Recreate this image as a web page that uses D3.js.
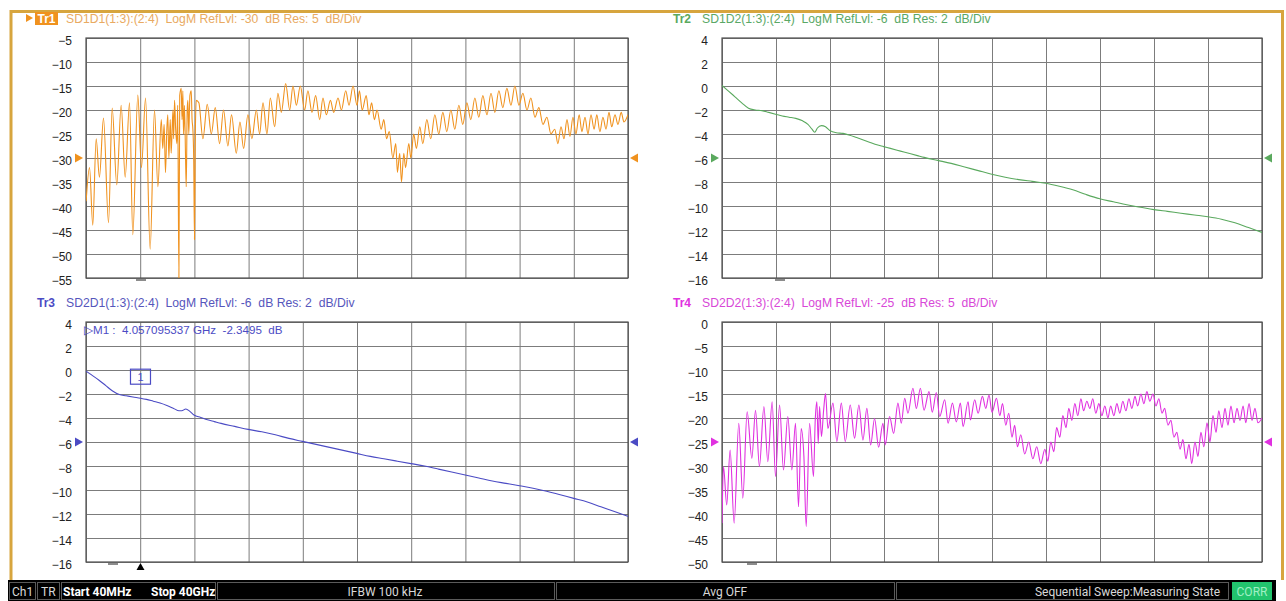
<!DOCTYPE html>
<html><head><meta charset="utf-8">
<script src="https://cdn.jsdelivr.net/npm/d3@7"></script>
<style>
body{margin:0;background:#fff;}
svg{display:block;font-family:"Liberation Sans",Arial,sans-serif;}
text{white-space:pre;}
</style>
</head><body>
<svg id="c" width="1286" height="601"></svg>
<script>
// ---------- DATA ----------
const startGHz = 0.04, stopGHz = 40;
const tr1Ticks = [-5,-10,-15,-20,-25,-30,-35,-40,-45,-50,-55];
const tr2Ticks = [4,2,0,-2,-4,-6,-8,-10,-12,-14,-16];
const tr3Ticks = [4,2,0,-2,-4,-6,-8,-10,-12,-14,-16];
const tr4Ticks = [0,-5,-10,-15,-20,-25,-30,-35,-40,-45,-50];
const refLevels = [-30, -6, -6, -25];
const titles = [
  "SD1D1(1:3):(2:4)  LogM RefLvl: -30  dB Res: 5  dB/Div",
  "SD1D2(1:3):(2:4)  LogM RefLvl: -6  dB Res: 2  dB/Div",
  "SD2D1(1:3):(2:4)  LogM RefLvl: -6  dB Res: 2  dB/Div",
  "SD2D2(1:3):(2:4)  LogM RefLvl: -25  dB Res: 5  dB/Div"
];
const traceNames = ["Tr1","Tr2","Tr3","Tr4"];
const markerFreq = 4.057095337, markerVal = -2.3495;
const markerText = "\u25B7M1 :  4.057095337 GHz  -2.3495  dB";
const statusTexts = ["Ch1","TR","Start 40MHz","Stop 40GHz","IFBW 100 kHz","Avg OFF","Sequential Sweep:Measuring State","CORR"];

// [GHz, dB]
const tr1 = [
[0.05,-39],[0.3,-32],[0.54,-44],[0.79,-26],[1.03,-34],[1.33,-21.7],[1.7,-43.5],[1.97,-19.6],[2.31,-35.6],[2.63,-19],[2.93,-34],[3.25,-18.5],[3.49,-46],[3.86,-16.9],[4.13,-32],[4.43,-17.5],[4.77,-49],[5.09,-20],[5.34,-36],
[5.59,-22],[5.7,-28],[5.8,-23],[5.9,-33],[6.0,-24],[6.07,-21],[6.15,-30],[6.25,-22],[6.32,-29],[6.45,-20],[6.5,-26],[6.57,-18],[6.65,-24],[6.74,-27],[6.8,-19],[6.89,-55],[6.95,-17],[7.06,-15.5],[7.12,-22],[7.18,-16],[7.23,-25],[7.3,-19],[7.38,-30],[7.43,-36],[7.5,-20],[7.55,-18],[7.62,-25],[7.7,-17],[7.8,-16],[7.86,-22],[7.92,-24],[7.98,-30],[8.04,-47],[8.1,-25],[8.17,-18],
[8.36,-18.5],[8.66,-26],[8.98,-18.8],[9.28,-25],[9.57,-19.5],[9.89,-27],[10.18,-20],[10.5,-27.5],[10.77,-21],[11.12,-29],[11.39,-22.5],[11.66,-28],[11.98,-21],[12.27,-26],[12.6,-20],[12.84,-25],[13.09,-18.5],[13.38,-25],[13.63,-17.5],[13.95,-23.5],[14.19,-16.5],[14.44,-20.5],[14.76,-14.5],[15.06,-20],[15.3,-15],[15.55,-19],[15.84,-15],[16.16,-20],[16.4,-16],[16.7,-20.5],[16.97,-17],[17.27,-22],[17.51,-17.5],[17.76,-21],[18.06,-18],[18.3,-20.5],[18.62,-17.5],[18.87,-20],[19.19,-16],[19.43,-19],[19.73,-15],[20.02,-19],
[20.2,-16],[20.4,-20],[20.7,-17],[20.9,-21],[21.1,-18.5],[21.3,-22],[21.5,-20],[21.8,-24],[22.0,-22],[22.2,-26],[22.4,-24.5],[22.66,-30],[22.88,-27],[23.0,-33],[23.17,-29],[23.3,-35],[23.47,-29],[23.6,-32],[23.84,-27],[23.99,-30],[24.2,-25],[24.4,-28],[24.65,-23.5],[24.87,-27],[25.17,-22],[25.46,-26],[25.76,-21],[26.05,-25],[26.35,-20.5],[26.64,-24.5],[26.94,-20],[27.23,-24],[27.53,-19],[27.82,-23],[28.12,-18.5],[28.41,-22],[28.71,-17.5],[29.0,-21.5],[29.3,-17],[29.6,-21],[29.9,-16.5],[30.18,-20.5],[30.48,-16],[30.77,-19.5],[31.07,-15.5],[31.37,-19],[31.66,-15],[31.96,-19],[32.25,-16.5],[32.55,-20],[32.84,-17.5],[33.14,-21.5],[33.43,-19.5],[33.73,-23],[34.02,-21.5],[34.32,-25],[34.6,-24],[34.83,-27],[35.06,-23.5],[35.28,-26],[35.5,-22],[35.72,-25.5],[35.94,-21.5],[36.16,-25],[36.4,-21],[36.6,-24.5],[36.83,-21.5],[37.05,-25],[37.27,-21],[37.5,-24],[37.7,-21],[37.93,-24.5],[38.15,-21.5],[38.38,-24],[38.6,-20.5],[38.8,-23.5],[39.04,-21],[39.26,-23],[39.5,-20.5],[39.7,-22.5],[40.0,-21]
];

const tr2 = [
[0.04,0.05],[0.5,-0.4],[1.0,-0.9],[1.5,-1.4],[2.0,-1.85],[2.5,-2.0],[3.0,-2.05],[3.5,-2.2],[4.0,-2.35],[4.5,-2.5],[5.0,-2.6],[5.5,-2.7],[6.0,-2.9],[6.4,-3.2],[6.7,-3.6],[6.9,-3.85],[7.1,-3.5],[7.4,-3.3],[7.7,-3.4],[8.0,-3.7],[8.5,-3.9],[9.0,-3.95],[9.5,-4.1],[10.0,-4.3],[10.5,-4.5],[11.0,-4.7],[11.5,-4.9],[12.0,-5.05],[12.5,-5.2],[13.0,-5.35],[13.5,-5.5],[14.0,-5.65],[14.5,-5.8],[15.0,-5.95],[16,-6.2],[17,-6.45],[18,-6.75],[19,-7.05],[20,-7.35],[21,-7.6],[22,-7.8],[23,-7.95],[24,-8.1],[25,-8.35],[26,-8.65],[27,-9.05],[28,-9.4],[29,-9.65],[30,-9.9],[31,-10.1],[32,-10.3],[33,-10.45],[34,-10.6],[35,-10.75],[36,-10.9],[37,-11.1],[38,-11.4],[39,-11.8],[40,-12.2]
];

const tr3 = [
[0.04,-0.1],[0.5,-0.45],[1.0,-0.85],[1.5,-1.3],[2.0,-1.75],[2.5,-2.05],[3.0,-2.15],[3.5,-2.25],[4.06,-2.35],[4.5,-2.45],[5.0,-2.6],[5.5,-2.75],[6.0,-2.95],[6.5,-3.2],[6.9,-3.4],[7.1,-3.4],[7.4,-3.25],[7.7,-3.45],[8.0,-3.75],[8.5,-3.95],[9.0,-4.15],[9.5,-4.3],[10.0,-4.45],[11,-4.7],[12,-4.95],[13,-5.15],[14,-5.4],[15,-5.7],[16,-5.95],[17,-6.2],[18,-6.45],[19,-6.7],[20,-6.95],[21,-7.2],[22,-7.4],[23,-7.6],[24,-7.8],[25,-8.0],[26,-8.25],[27,-8.5],[28,-8.75],[29,-9.0],[30,-9.25],[31,-9.45],[32,-9.65],[33,-9.85],[34,-10.1],[35,-10.4],[36,-10.7],[37,-11.0],[38,-11.4],[39,-11.8],[40,-12.2]
];

const tr4 = [
[0.04,-41.9],[0.15,-30.1],[0.39,-38.1],[0.64,-26.7],[0.94,-41.9],[1.28,-21.1],[1.58,-36.7],[1.9,-18.7],[2.25,-28.4],[2.52,-18.4],[2.81,-30.1],[3.14,-17.6],[3.43,-29.1],[3.75,-16.6],[4.0,-32.2],[4.3,-17.3],[4.59,-30.8],[4.91,-19.7],[5.21,-30.8],[5.48,-21.1],[5.7,-38.5],[5.9,-22.2],[6.1,-28],[6.27,-42.6],[6.52,-21.1],[6.81,-32.2],[6.94,-20.4],[7.06,-16.6],[7.16,-25.3],[7.26,-17.6],[7.4,-23.9],[7.56,-18.4],[7.7,-14.9],[7.88,-22.2],
[8.25,-16.9],[8.54,-24.9],[8.87,-16.9],[9.16,-24.9],[9.53,-17.3],[9.85,-24.2],[10.17,-17.3],[10.47,-24.6],[10.76,-18],[11.04,-25.6],[11.33,-20.1],[11.63,-26.1],[11.95,-21.1],[12.12,-25.6],[12.44,-19.7],[12.74,-23.2],[13.06,-16.9],[13.31,-21.1],[13.56,-15.9],[13.8,-19],[14.17,-13.8],[14.42,-18],[14.72,-13.8],[14.99,-18.4],[15.36,-14.5],[15.6,-18.8],[15.9,-14.7],[16.15,-19.7],[16.52,-16.2],[16.77,-21.1],[17.09,-16.9],[17.38,-20.8],[17.68,-16.9],[17.88,-21.8],[18.25,-16.6],[18.42,-20.4],[18.74,-16.2],[18.99,-19],[19.31,-15.5],[19.56,-18],[19.8,-15.2],[20.02,-18.8],[20.35,-15.9],
[20.6,-19.5],[20.8,-17],[21.04,-21.5],[21.26,-19],[21.5,-24],[21.7,-21.5],[21.9,-26],[22.15,-23.5],[22.44,-27.5],[22.74,-25],[23.04,-28.5],[23.33,-26],[23.63,-29.5],[23.93,-26.5],[24.15,-29],[24.37,-25],[24.6,-27],[24.8,-22],[25.04,-24],[25.26,-19.5],[25.5,-22],[25.7,-18],[25.93,-20.5],[26.15,-17],[26.37,-19.5],[26.6,-16],[26.8,-18.5],[27.04,-16.5],[27.26,-18],[27.48,-16],[27.7,-19],[27.93,-17],[28.15,-19.5],[28.37,-17.5],[28.6,-20],[28.8,-17.5],[29.04,-19.5],[29.26,-17],[29.48,-19],[29.7,-16.5],[29.93,-18.5],[30.15,-16],[30.37,-18],[30.6,-15.5],[30.8,-17.5],[31.04,-15],[31.26,-17],[31.48,-14.5],[31.7,-16.5],[31.93,-15],[32.15,-17.5],[32.37,-16],[32.6,-19],[32.8,-18],[33.04,-21.5],[33.26,-20.5],[33.48,-24],[33.7,-23],[33.93,-26.5],[34.15,-24.5],[34.37,-28.5],[34.6,-25.5],[34.8,-29.5],[35.04,-25],[35.26,-28],[35.48,-23],[35.7,-26],[35.93,-21],[36.15,-25],[36.37,-19.5],[36.6,-23],[36.8,-18.5],[37.04,-22],[37.26,-18],[37.48,-21.5],[37.7,-17.5],[37.93,-21],[38.15,-18],[38.37,-20.5],[38.6,-17.5],[38.8,-21],[39.04,-17],[39.26,-20.5],[39.48,-18],[39.7,-21],[40.0,-20]
];

// ---------- DRAW ----------
const svg = d3.select('#c');
const gold = "#d7a53e";

svg.append("rect").attr("x",0).attr("y",0).attr("width",1286).attr("height",601).attr("fill","#fff");
svg.append("path").attr("d","M11,580 V11.5 H1282.5 V580").attr("fill","none").attr("stroke",gold).attr("stroke-width",3);

const panels = [
  {data:tr1, ticks:tr1Ticks, ref:refLevels[0], x0:86, x1:628, y0:38, y1:278, color:"#f0921e", textColor:"#e9aa62", title:titles[0], name:traceNames[0], boxed:true, dashX:141},
  {data:tr2, ticks:tr2Ticks, ref:refLevels[1], x0:722, x1:1262, y0:38, y1:278, color:"#5aa95e", textColor:"#5aa866", title:titles[1], name:traceNames[1], dashX:780},
  {data:tr3, ticks:tr3Ticks, ref:refLevels[2], x0:86, x1:628, y0:322, y1:562, color:"#4b4bc4", textColor:"#5656bc", title:titles[2], name:traceNames[2], dashX:113, marker:true},
  {data:tr4, ticks:tr4Ticks, ref:refLevels[3], x0:722, x1:1262, y0:322, y1:562, color:"#e030e0", textColor:"#d848d8", title:titles[3], name:traceNames[3], dashX:752}
];

panels.forEach((p,i)=>{
  const x = d3.scaleLinear().domain([startGHz, stopGHz]).range([p.x0, p.x1]);
  const y = d3.scaleLinear().domain([p.ticks[0], p.ticks[p.ticks.length-1]]).range([p.y0, p.y1]);
  const w = p.x1 - p.x0, h = p.y1 - p.y0;
  const g = svg.append("g");

  const ya = g.append("g").attr("transform",`translate(${p.x0},0)`)
    .call(d3.axisLeft(y).tickValues(p.ticks).tickSize(-w).tickPadding(14).tickFormat(d3.format("d")));
  ya.select(".domain").remove();
  ya.selectAll(".tick line").attr("stroke","#7c7c7c").attr("stroke-width",1);
  ya.selectAll(".tick text").attr("fill","#222").attr("font-size","12px")
    .attr("font-family","'Liberation Sans',Arial,sans-serif").attr("dy","0.5em");

  const gridVals = d3.range(11).map(k => startGHz + k*(stopGHz-startGHz)/10);
  const xa = g.append("g").attr("transform",`translate(0,${p.y1})`)
    .call(d3.axisBottom(x).tickValues(gridVals).tickSize(-h).tickFormat(""));
  xa.select(".domain").remove();
  xa.selectAll(".tick line").attr("stroke","#7c7c7c").attr("stroke-width",1);

  g.append("rect").attr("x",p.x0).attr("y",p.y0).attr("width",w).attr("height",h)
    .attr("fill","none").attr("stroke","#505050").attr("stroke-width",1.2);

  const cid = "clip"+i;
  svg.append("clipPath").attr("id",cid).append("rect").attr("x",p.x0).attr("y",p.y0-1).attr("width",w).attr("height",h+1);

  const line = d3.line().x(d=>x(d[0])).y(d=>y(d[1])).curve(d3.curveMonotoneX);
  g.append("path").datum(p.data).attr("d",line).attr("fill","none")
    .attr("stroke",p.color).attr("stroke-width",1.1).attr("stroke-linejoin","round")
    .attr("clip-path",`url(#${cid})`);

  const ry = y(p.ref);
  g.append("path").attr("d",`M${p.x0-11},${ry-4.5} L${p.x0-3},${ry} L${p.x0-11},${ry+4.5} Z`).attr("fill",p.color);
  g.append("path").attr("d",`M${p.x1+10},${ry-4.5} L${p.x1+2},${ry} L${p.x1+10},${ry+4.5} Z`).attr("fill",p.color);

  g.append("line").attr("x1",p.dashX-5).attr("x2",p.dashX+5).attr("y1",p.y1+2).attr("y2",p.y1+2)
    .attr("stroke","#666").attr("stroke-width",1.5);

  const tx = p.x0 - 49, ty = p.y0 - 15;
  if (p.boxed) {
    g.append("path").attr("d",`M${tx-11},${ty-9} L${tx-4},${ty-5} L${tx-11},${ty-1} Z`).attr("fill",p.color);
    g.append("rect").attr("x",tx-2).attr("y",ty-11).attr("width",23).attr("height",13).attr("fill",p.color);
    g.append("text").attr("x",tx+9.5).attr("y",ty).attr("text-anchor","middle").attr("fill","#fff")
      .attr("font-size","12px").attr("font-weight","bold").text(p.name);
  } else {
    g.append("text").attr("x",tx).attr("y",ty).attr("fill",p.color)
      .attr("font-size","12px").attr("font-weight","bold").text(p.name);
  }
  g.append("text").attr("x",tx+29).attr("y",ty).attr("fill",p.textColor).attr("font-size","12.2px").text(p.title);

  if (p.marker) {
    g.append("text").attr("x",p.x0-2).attr("y",p.y0+12).attr("fill",p.color).attr("font-size","11.6px").text(markerText);
    const mx = x(markerFreq), my = y(markerVal);
    g.append("rect").attr("x",mx-10).attr("y",my-29).attr("width",20).attr("height",15)
      .attr("fill","none").attr("stroke",p.color).attr("stroke-width",1.2);
    g.append("text").attr("x",mx).attr("y",my-17).attr("text-anchor","middle").attr("fill",p.color)
      .attr("font-size","11px").text("1");
    g.append("path").attr("d",`M${mx},${p.y1+1} L${mx+4},${p.y1+8} L${mx-4},${p.y1+8} Z`).attr("fill","#000");
  }
});

// ---------- STATUS BAR ----------
const sb = svg.append("g");
sb.append("rect").attr("x",8).attr("y",580).attr("width",1268).attr("height",21).attr("fill","#000");
const boxes = [[9,36],[37,60],[61,216],[217,555],[556,895],[896,1229]];
boxes.forEach(b=>{
  sb.append("rect").attr("x",b[0]+0.5).attr("y",582.5).attr("width",b[1]-b[0]-1).attr("height",17)
    .attr("fill","none").attr("stroke","#5a5a5a").attr("stroke-width",1);
});
sb.append("rect").attr("x",1232).attr("y",582).attr("width",40).attr("height",18).attr("fill","#22c46e");
const sf = "'Liberation Sans Narrow','Roboto',Arial,sans-serif";
const st = (x, txt, anchor, fill, weight) => sb.append("text").attr("x",x).attr("y",595.5).attr("text-anchor",anchor)
  .attr("fill",fill).attr("font-size","12px").attr("font-family",sf).attr("font-weight",weight||"normal").text(txt);
st(12, statusTexts[0], "start", "#d8d8d8");
st(41, statusTexts[1], "start", "#d8d8d8");
st(63, statusTexts[2], "start", "#ffffff", "bold");
st(151, statusTexts[3], "start", "#ffffff", "bold");
st(385, statusTexts[4], "middle", "#d8d8d8");
st(725, statusTexts[5], "middle", "#d8d8d8");
st(1220, statusTexts[6], "end", "#d8d8d8");
st(1252, statusTexts[7], "middle", "#9ff0c4");
</script>
</body></html>
